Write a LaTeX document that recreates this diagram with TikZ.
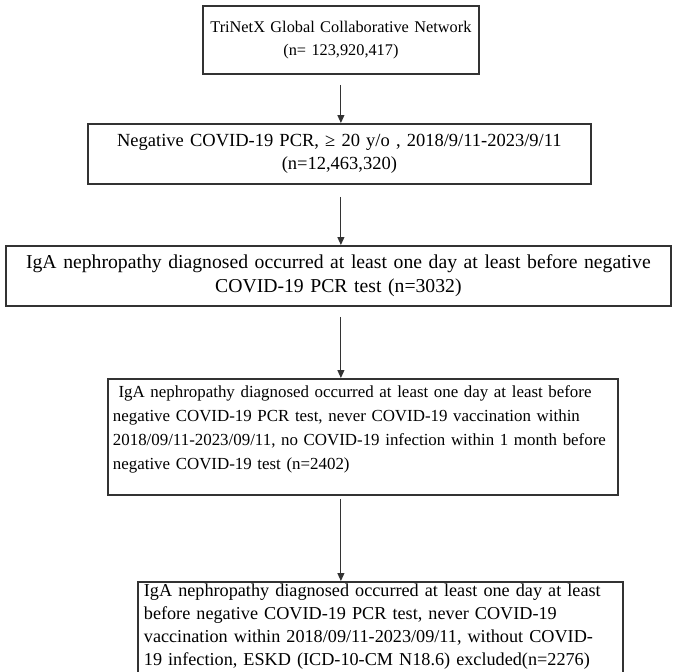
\documentclass[tikz,border=0pt]{standalone}
\usepackage{fontspec}
\setmainfont{Liberation Serif}
\usepackage{tikz}
\usetikzlibrary{positioning}
\usetikzlibrary{arrows.meta}
\definecolor{boxline}{RGB}{51,51,51}

\begin{document}
\begin{tikzpicture}[
            x = 1pt, y = 1pt,
            > = {Triangle[length=8pt,width=7pt]}, % arrow head style
            line width = 1pt, % line style
            draw = boxline
        ]

        \tikzstyle{box}=[
            draw = boxline,
            line width = 1.8pt,
            anchor = north west,
            inner xsep = 6pt,
            inner ysep = 4pt
        ]

        \useasboundingbox (0,0) rectangle (678,-672);

        % population
        \node[box, inner xsep=4pt, text width=268pt, align=center, minimum height=68pt,
              font=\fontsize{16.3}{23}\selectfont] (T) at (202,-5)
            {TriNetX Global Collaborative Network\\(n= 123,920,417)};
        \node[box, text width=491pt, align=center, minimum height=60pt,
              font=\fontsize{18.5}{23}\selectfont] (P) at (87,-123)
            {Negative COVID-19 PCR, ≥ 20 y/o , 2018/9/11-2023/9/11\\(n=12,463,320)};

        % IgA nephropathy
        \node[box, text width=653pt, align=center, minimum height=60pt,
              font=\fontsize{19.7}{24}\selectfont] (I) at (5,-245)
            {IgA nephropathy diagnosed occurred at least one day at least before negative\\COVID-19 PCR test (n=3032)};
        \node[box, inner xsep=5pt, text width=500pt, align=left, text height=15pt, text depth=93pt,
              font=\fontsize{16.9}{23.7}\selectfont] (V) at (107,-378)
            {\ IgA nephropathy diagnosed occurred at least one day at least before\\
             negative COVID-19 PCR test, never COVID-19 vaccination within\\
             2018/09/11-2023/09/11, no COVID-19 infection within 1 month before\\
             negative COVID-19 test (n=2402)};
        \node[box, text width=473pt, align=left, text height=11pt,
              font=\fontsize{18.2}{22.8}\selectfont] (E) at (137,-581)
            {IgA nephropathy diagnosed occurred at least one day at least\\
             before negative COVID-19 PCR test, never COVID-19\\
             vaccination within 2018/09/11-2023/09/11, without COVID-\\
             19 infection, ESKD (ICD-10-CM N18.6) excluded(n=2276)};

        % arrows
        \draw[->, shorten <=10pt] (T.south) -- (T.south |- P.north);
        \draw[->, shorten <=12pt] (P.south -| T.south) -- (I.north -| T.south);
        \draw[->, shorten <=10pt] (I.south -| T.south) -- (V.north -| T.south);
        \draw[->, shorten <=3pt] (V.south -| T.south) -- (E.north -| T.south);

\end{tikzpicture}
\end{document}
